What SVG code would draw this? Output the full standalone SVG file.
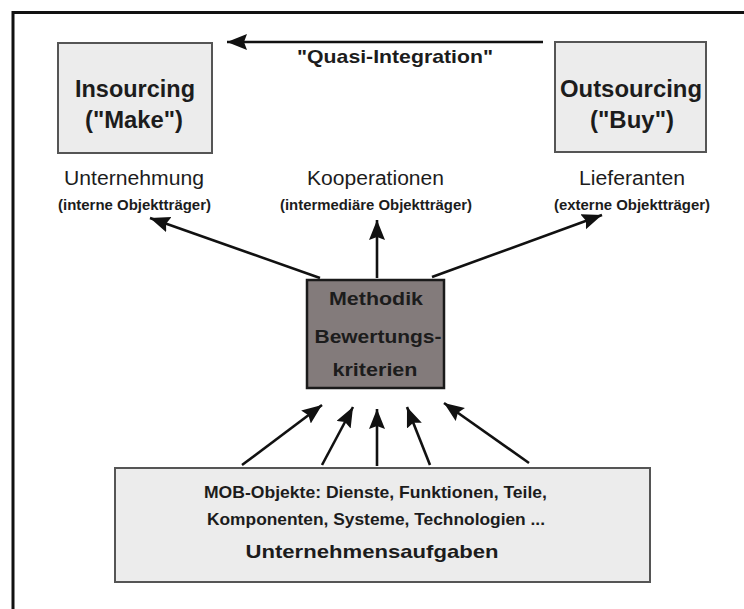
<svg xmlns="http://www.w3.org/2000/svg" width="744" height="609" viewBox="0 0 744 609">
  <style>
    text { font-family: "Liberation Sans", Arial, sans-serif; fill: #1c1c1c; text-anchor: middle; }
    .big { font-size: 23px; font-weight: bold; }
    .lbl { font-size: 20px; }
    .sub { font-size: 14.5px; font-weight: bold; }
    .core { font-size: 19px; font-weight: bold; }
    .task { font-size: 16.5px; font-weight: bold; }
    .light { fill: #ececec; stroke: #555; stroke-width: 2; }
    .dark { fill: #837b7b; stroke: #1a1a1a; stroke-width: 2.5; }
    .conn { stroke: #111; stroke-width: 2.6; fill: none; marker-end: url(#head); }
  </style>
  <defs>
    <marker id="head" markerUnits="userSpaceOnUse" markerWidth="22" markerHeight="18" refX="20" refY="8" orient="auto">
      <path d="M0,0 L20,8 L0,16 L3,8 z" fill="#111"/>
    </marker>
  </defs>

  <rect width="744" height="609" fill="#ffffff"/>

  <!-- frame: top and left rules -->
  <path d="M13,609 V12.5 H744" stroke="#111" stroke-width="3" fill="none"/>

  <g id="insourcing">
    <rect class="light" x="58" y="43" width="154" height="110"/>
    <text class="big" x="135" y="97" textLength="120" lengthAdjust="spacingAndGlyphs">Insourcing</text>
    <text class="big" x="134" y="128" textLength="98" lengthAdjust="spacingAndGlyphs">("Make")</text>
  </g>

  <g id="outsourcing">
    <rect class="light" x="555" y="42" width="151" height="110"/>
    <text class="big" x="631" y="97" textLength="142" lengthAdjust="spacingAndGlyphs">Outsourcing</text>
    <text class="big" x="632" y="128" textLength="84" lengthAdjust="spacingAndGlyphs">("Buy")</text>
  </g>

  <g id="quasi-integration-label">
    <text class="core" x="395" y="63" textLength="196" lengthAdjust="spacingAndGlyphs">"Quasi-Integration"</text>
  </g>

  <g id="unternehmung">
    <text class="lbl" x="134" y="185" textLength="140" lengthAdjust="spacingAndGlyphs">Unternehmung</text>
    <text class="sub" x="134.5" y="210" textLength="153" lengthAdjust="spacingAndGlyphs">(interne Objektträger)</text>
  </g>

  <g id="kooperationen">
    <text class="lbl" x="375.5" y="185" textLength="137" lengthAdjust="spacingAndGlyphs">Kooperationen</text>
    <text class="sub" x="376" y="210" textLength="192" lengthAdjust="spacingAndGlyphs">(intermediäre Objektträger)</text>
  </g>

  <g id="lieferanten">
    <text class="lbl" x="632" y="185" textLength="106" lengthAdjust="spacingAndGlyphs">Lieferanten</text>
    <text class="sub" x="632" y="210" textLength="156" lengthAdjust="spacingAndGlyphs">(externe Objektträger)</text>
  </g>

  <g id="methodik">
    <rect class="dark" x="307" y="280" width="137" height="108"/>
    <text class="core" x="376" y="305" textLength="94" lengthAdjust="spacingAndGlyphs">Methodik</text>
    <text class="core" x="378" y="343" textLength="127" lengthAdjust="spacingAndGlyphs">Bewertungs-</text>
    <text class="core" x="375" y="376" textLength="85" lengthAdjust="spacingAndGlyphs">kriterien</text>
  </g>

  <g id="unternehmensaufgaben">
    <rect class="light" x="115" y="468" width="535" height="114"/>
    <text class="task" x="375.5" y="498" textLength="343" lengthAdjust="spacingAndGlyphs">MOB-Objekte: Dienste, Funktionen, Teile,</text>
    <text class="task" x="376" y="525" textLength="338" lengthAdjust="spacingAndGlyphs">Komponenten, Systeme, Technologien ...</text>
    <text class="core" x="372" y="558" textLength="253" lengthAdjust="spacingAndGlyphs">Unternehmensaufgaben</text>
  </g>

  <g id="connectors">
    <line class="conn" x1="543" y1="42" x2="227" y2="42"/>
    <line class="conn" x1="320" y1="278" x2="150" y2="218"/>
    <line class="conn" x1="377" y1="278" x2="377" y2="220"/>
    <line class="conn" x1="432" y1="277" x2="602" y2="215"/>
    <line class="conn" x1="242" y1="465" x2="322" y2="405"/>
    <line class="conn" x1="322" y1="465" x2="353" y2="407"/>
    <line class="conn" x1="377" y1="466" x2="377" y2="409"/>
    <line class="conn" x1="430" y1="465" x2="407" y2="407"/>
    <line class="conn" x1="529" y1="463" x2="444" y2="403"/>
  </g>
</svg>
